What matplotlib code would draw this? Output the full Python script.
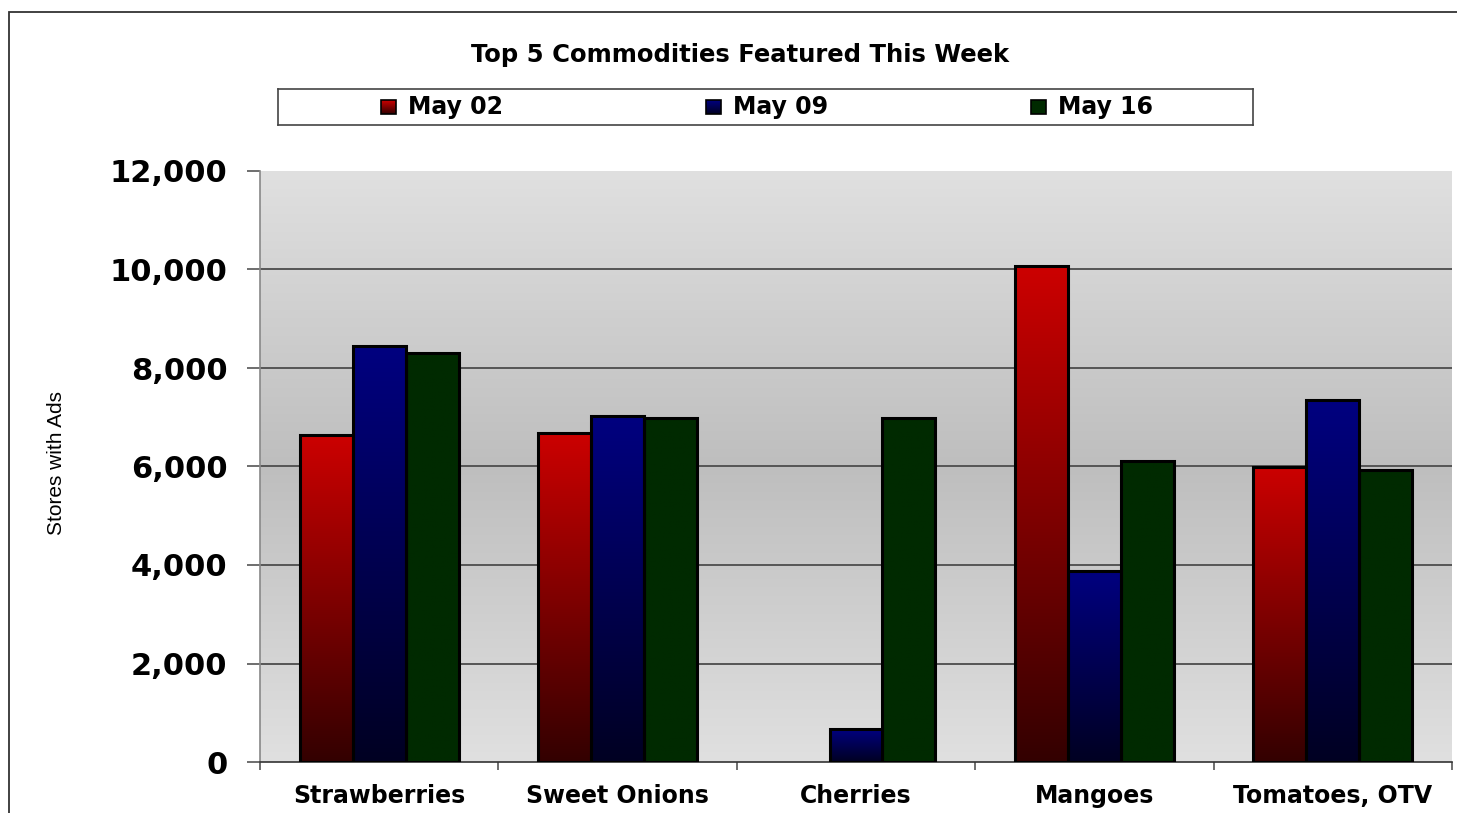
import numpy as np
import matplotlib
matplotlib.use("Agg")
import matplotlib.pyplot as plt
from matplotlib.colors import LinearSegmentedColormap
from matplotlib.patches import Rectangle

# data
categories = ["Strawberries", "Sweet Onions", "Cherries", "Mangoes", "Tomatoes, OTV"]
series_names = ["May 02", "May 09", "May 16"]
may02 = [6630, 6680, 0, 10070, 5990]
may09 = [8450, 7030, 670, 3880, 7350]
may16 = [8300, 6990, 6990, 6110, 5930]
yticks = [0, 2000, 4000, 6000, 8000, 10000, 12000]

# bottom -> top colours for each series
grads = [("#330000", "#cc0000"), ("#000022", "#000080"), ("#002a00", "#002a00")]
FONT = "DejaVu Sans"

W, H = 1457, 813
fig = plt.figure(figsize=(W / 100, H / 100), dpi=100)
fig.patch.set_facecolor("white")

# outer chart frame (left/top edges visible)
fig.patches.append(Rectangle((9 / W, -0.5), 2, 0.5 + 1 - 12 / H, transform=fig.transFigure,
                             fill=False, edgecolor="#333333", lw=1.3))

ax = fig.add_axes([260 / W, 1 - 762 / H, 1192 / W, 591 / H])
n = len(categories)
x = np.arange(n)
ymax = 12000

# plot area gradient: light at top and bottom, darker in the middle
bg = LinearSegmentedColormap.from_list("bg", ["#e0e0e0", "#bebebe", "#e0e0e0"])
ax.imshow(np.linspace(0, 1, 256).reshape(-1, 1), cmap=bg, aspect="auto", origin="lower",
          extent=(-0.5, n - 0.5, 0, ymax), zorder=0)
for yv in yticks[1:-1]:
    ax.axhline(yv, color="#555555", lw=1.4, zorder=1)

bw = 0.222
data = [may02, may09, may16]
for i, vals in enumerate(data):
    cm = LinearSegmentedColormap.from_list("s%d" % i, list(grads[i]))
    offs = (i - 1) * bw
    for xi, v in zip(x, vals):
        if v <= 0:
            continue
        x0 = xi + offs - bw / 2
        ax.imshow(np.linspace(0, 1, 256).reshape(-1, 1), cmap=cm, aspect="auto", origin="lower",
                  extent=(x0, x0 + bw, 0, v), zorder=2)
    lws = [2.2 if v > 0 else 0 for v in vals]
    ax.bar(x + offs, vals, width=bw, facecolor="none", edgecolor="black", linewidth=lws, zorder=3)

ax.set_xlim(-0.5, n - 0.5)
ax.set_ylim(0, ymax)
ax.set_yticks(yticks)
ax.set_yticklabels(["{:,}".format(v) for v in yticks], fontsize=22, fontweight="bold", family=FONT)
ax.tick_params(axis="y", length=9.5, width=1.2, color="#555555", pad=14)
ax.set_xticks(x)
ax.set_xticklabels(categories, fontsize=17, fontweight="bold", family=FONT)
ax.tick_params(axis="x", length=0, pad=16)
ax.set_xticks(np.arange(n + 1) - 0.5, minor=True)
ax.tick_params(axis="x", which="minor", length=6, width=1.2, color="#555555")
for s in ["top", "right"]:
    ax.spines[s].set_visible(False)
ax.spines["left"].set_color("#888888")
ax.spines["bottom"].set_color("#333333")
ax.spines["left"].set_linewidth(1.2)
ax.spines["bottom"].set_linewidth(1.2)

fig.text(57 / W, 1 - 463 / H, "Stores with Ads", rotation=90, ha="center", va="center",
         fontsize=15, family="Liberation Sans")

fig.text(740 / W, 1 - 55 / H, "Top 5 Commodities Featured This Week", ha="center", va="center",
         fontsize=17.5, fontweight="bold", family=FONT)

# legend box
lax = fig.add_axes([278 / W, 1 - 125 / H, 975 / W, 36 / H])
lax.set_xticks([])
lax.set_yticks([])
for s in lax.spines.values():
    s.set_color("#444444")
    s.set_linewidth(1.2)
for i, name in enumerate(series_names):
    px = 103 + i * 325
    cm = LinearSegmentedColormap.from_list("l%d" % i, list(grads[i]))
    lax.imshow(np.linspace(0, 1, 64).reshape(-1, 1), cmap=cm, aspect="auto", origin="lower",
               extent=(px, px + 15, 11, 25), zorder=1)
    lax.add_patch(Rectangle((px, 11), 15, 14, fill=False, edgecolor="black", lw=1.2, zorder=2))
    lax.text(px + 27, 18, name, ha="left", va="center", fontsize=17, fontweight="bold", family=FONT)
lax.set_xlim(0, 975)
lax.set_ylim(0, 36)

fig.savefig("out.png", dpi=100)
